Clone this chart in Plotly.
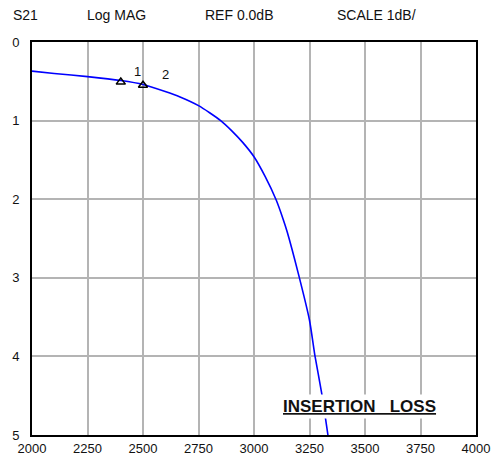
import plotly.graph_objects as go

# Trace data (frequency in MHz, insertion loss in dB)
freq = [2000, 2100, 2250, 2400, 2500, 2600, 2667, 2750, 2800, 2850, 2900, 2950,
        3000, 3050, 3100, 3132, 3150, 3200, 3250, 3275, 3305, 3333]
loss = [0.37, 0.40, 0.44, 0.49, 0.54, 0.63, 0.70, 0.81, 0.90, 1.00, 1.13, 1.28,
        1.46, 1.71, 2.01, 2.26, 2.42, 2.95, 3.54, 4.00, 4.47, 5.00]

# Markers
marker_freq = [2400, 2500]
marker_loss = [0.51, 0.55]
marker_names = ["1", "2"]

x_ticks = [2000, 2250, 2500, 2750, 3000, 3250, 3500, 3750, 4000]
y_ticks = [0, 1, 2, 3, 4, 5]

header = ["S21", "Log MAG", "REF 0.0dB", "SCALE 1dB/"]
header_x = [-0.0146, 0.1914, 0.4662, 0.777]

FONT = "Liberation Sans, Arial, sans-serif"

fig = go.Figure()
fig.add_trace(go.Scatter(x=freq, y=loss, mode="lines",
                         line=dict(color="#0000ff", width=1.6, shape="spline", smoothing=0.6),
                         hoverinfo="skip", showlegend=False))
fig.add_trace(go.Scatter(x=marker_freq, y=marker_loss, mode="markers",
                         marker=dict(symbol="triangle-up-open", size=8,
                                     color="black", line=dict(width=1.5, color="black")),
                         showlegend=False))

annotations = []
for t, x in zip(header, header_x):
    annotations.append(dict(text=t, x=x, y=1.068, xref="paper", yref="paper",
                            xanchor="center", yanchor="middle", showarrow=False,
                            font=dict(family=FONT, size=14, color="#111")))

shifts = [(17, 11), (22, 11)]
for n, fx, fy, (dx, dy) in zip(marker_names, marker_freq, marker_loss, shifts):
    annotations.append(dict(text=n, x=fx, y=fy, xref="x", yref="y",
                            xshift=dx, yshift=dy, showarrow=False,
                            xanchor="center", yanchor="middle",
                            font=dict(family=FONT, size=13, color="#111")))

annotations.append(dict(text="<b><u>INSERTION&nbsp;&nbsp;&nbsp;LOSS</u></b>",
                        x=0.7365, y=0.072, xref="paper", yref="paper",
                        xanchor="center", yanchor="middle", showarrow=False,
                        bgcolor="white", borderpad=2,
                        font=dict(family=FONT, size=17, color="#111")))

fig.update_layout(
    width=493, height=463,
    margin=dict(l=32, r=17, t=42, b=28, autoexpand=False),
    paper_bgcolor="white", plot_bgcolor="white",
    font=dict(family=FONT, size=13, color="#111"),
    annotations=annotations,
    xaxis=dict(range=[2000, 4000], tickvals=x_ticks, ticktext=[str(v) for v in x_ticks],
               showgrid=True, gridcolor="#b4b4b4", gridwidth=1.5, automargin=False,
               showline=True, linecolor="black", linewidth=2, mirror=True,
               ticks="", zeroline=False, tickfont=dict(size=13)),
    yaxis=dict(range=[5, 0], tickvals=y_ticks, ticktext=[str(v) for v in y_ticks],
               showgrid=True, gridcolor="#b4b4b4", gridwidth=1.5, automargin=False,
               showline=True, linecolor="black", linewidth=2, mirror=True,
               ticks="", zeroline=False, tickfont=dict(size=13), ticklabelstandoff=8),
)

fig.write_html("out.html", config={"displayModeBar": False},
               post_script="document.body.style.margin='0';document.body.style.padding='0';")
